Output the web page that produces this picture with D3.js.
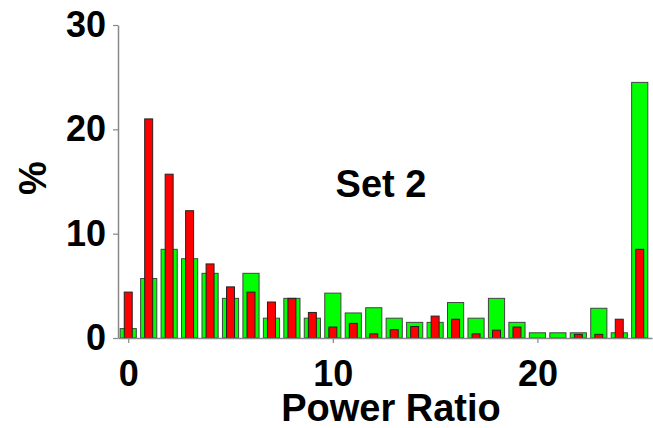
<!DOCTYPE html>
<html>
<head>
<meta charset="utf-8">
<script src="https://cdn.jsdelivr.net/npm/d3@7"></script>
<style>
  body { margin: 0; background: #fff; }
  text { font-family: "Liberation Sans", Arial, Helvetica, sans-serif; font-weight: bold; fill: #000; }
</style>
</head>
<body>
<div id="chart"></div>
<script>
// power ratio bins (last bin = 25 and above)
const ratios = d3.range(0, 26);
const greenPct = [0.9, 5.7, 8.5, 7.6, 6.2, 3.8, 6.2, 1.9, 3.8, 1.9, 4.3, 2.4, 2.9,
                  1.9, 1.5, 1.5, 3.4, 1.9, 3.8, 1.5, 0.5, 0.5, 0.5, 2.85, 0.5, 24.5];
const redPct = [4.4, 21.0, 15.7, 12.2, 7.1, 4.9, 4.4, 3.45, 3.8, 2.45, 1.05, 1.4, 0.4,
                0.8, 1.1, 2.1, 1.8, 0.4, 0.75, 1.05, 0, 0, 0.35, 0.35, 1.8, 8.5];
const xTicks = [0, 10, 20];
const yTicks = [0, 10, 20, 30];

const width = 653;
const height = 428;

const svg = d3.select("#chart")
    .append("svg")
    .attr("width", width)
    .attr("height", height);

const x = d3.scaleLinear().domain([-0.5, 25.6]).range([118, 652]);
const y = d3.scaleLinear().domain([0, 30]).range([338, 25]);

const unit = x(1) - x(0);
const greenW = unit * 0.79;
const redW = unit * 0.39;

// green bars behind, red bars in front
svg.append("g")
    .selectAll("rect")
    .data(ratios)
    .enter().append("rect")
    .attr("x", d => x(d) - greenW / 2)
    .attr("y", d => y(greenPct[d]))
    .attr("width", greenW)
    .attr("height", d => y(0) - y(greenPct[d]))
    .attr("fill", "#00ff00")
    .attr("stroke", "#444")
    .attr("stroke-width", 1);

svg.append("g")
    .selectAll("rect")
    .data(ratios.filter(d => redPct[d] > 0))
    .enter().append("rect")
    .attr("x", d => x(d) - redW / 2)
    .attr("y", d => y(redPct[d]))
    .attr("width", redW)
    .attr("height", d => y(0) - y(redPct[d]))
    .attr("fill", "#ff0000")
    .attr("stroke", "#222")
    .attr("stroke-width", 1);

const xAxis = svg.append("g")
    .attr("transform", `translate(0,${y(0)})`)
    .call(d3.axisBottom(x).tickValues(xTicks).tickSize(5).tickSizeOuter(0).tickPadding(17));

const yAxis = svg.append("g")
    .attr("transform", `translate(${x(-0.5)},0)`)
    .call(d3.axisLeft(y).tickValues(yTicks).tickSize(5).tickSizeOuter(0).tickPadding(7));

[xAxis, yAxis].forEach(a => {
    a.select(".domain").attr("stroke", "#888").attr("stroke-width", 1.5);
    a.selectAll(".tick line").attr("stroke", "#888").attr("stroke-width", 1.2);
    a.selectAll(".tick text")
        .attr("fill", "#000")
        .style("font-size", "36px")
        .style("font-family", "'Liberation Sans', Arial, sans-serif")
        .style("font-weight", "bold");
});

svg.append("text")
    .attr("x", 391)
    .attr("y", 421)
    .attr("text-anchor", "middle")
    .style("font-size", "38px")
    .text("Power Ratio");

svg.append("text")
    .attr("transform", "translate(46,178) rotate(-90)")
    .attr("text-anchor", "middle")
    .style("font-size", "38px")
    .text("%");

svg.append("text")
    .attr("x", 381)
    .attr("y", 197)
    .attr("text-anchor", "middle")
    .style("font-size", "38px")
    .text("Set 2");
</script>
</body>
</html>
